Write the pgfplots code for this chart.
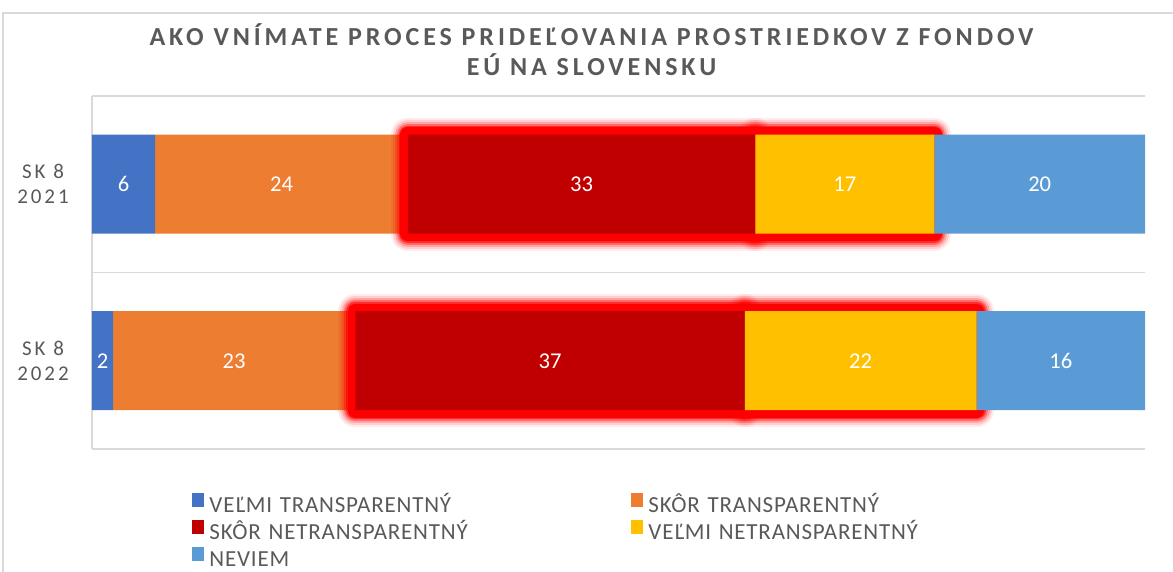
\documentclass[border=0pt]{standalone}
\usepackage{fontspec}
\setmainfont{Carlito}
\newfontfamily\titlefont[LetterSpace=15]{Carlito}
\newfontfamily\catfont[LetterSpace=14]{Carlito}
\newfontfamily\legfont[LetterSpace=3.5]{Carlito}
\usepackage{pgfplots}
\pgfplotsset{compat=1.18}
\definecolor{c1}{HTML}{4472C4}
\definecolor{c2}{HTML}{ED7D31}
\definecolor{c3}{HTML}{C00000}
\definecolor{c4}{HTML}{FFC000}
\definecolor{c5}{HTML}{5B9BD5}
\definecolor{txtgray}{HTML}{595959}
\definecolor{linegray}{HTML}{D9D9D9}
\pgfplotsset{
  base/.style={
    at={(0,0)}, anchor=south west,
    scale only axis, width=526.5pt, height=176.5pt,
    xmin=0, xmax=100, ymin=0, ymax=2,
    clip=false,
  },
  bars/.style={base, xbar stacked, bar width=49.5pt},
  skip/.style={draw=none, fill=none, forget plot},
  glow/.style={fill=none, draw=red, line width=7.5pt, line join=round, forget plot,
    preaction={draw=red, draw opacity=0.08, line width=17pt, line join=round},
    preaction={draw=red, draw opacity=0.12, line width=15pt, line join=round},
    preaction={draw=red, draw opacity=0.2, line width=13pt, line join=round},
    preaction={draw=red, draw opacity=0.35, line width=11pt, line join=round},
    preaction={draw=red, draw opacity=0.6, line width=9pt, line join=round}},
}
\begin{document}
\begin{tikzpicture}
\useasboundingbox (-46pt,-61.5pt) rectangle (540.5pt,224.5pt);
\draw[linegray, line width=0.8pt] (-44.5pt,-80pt) -- (-44.5pt,218pt) -- (580pt,218pt);
% layer 1: axes, legend, first two segments
\begin{axis}[
  bars,
  hide x axis,
  axis y line*=left,
  y axis line style={draw=linegray, line width=0.8pt, -},
  tick style={draw=none},
  ytick={0.5,1.5}, yticklabels={{SK 8\\2022},{SK 8\\2021}},
  yticklabel style={align=center, anchor=center, xshift=-24.5pt,
    font=\catfont\fontsize{10.5}{12.5}\selectfont, text=txtgray},
  minor ytick={0,1,2}, yminorgrids,
  minor grid style={draw=linegray, line width=0.8pt},
  title={AKO VNÍMATE PROCES PRIDEĽOVANIA PROSTRIEDKOV Z FONDOV\\EÚ NA SLOVENSKU},
  title style={at={(0.4744,1)}, anchor=center, yshift=17.25pt, align=center,
    font=\titlefont\bfseries\fontsize{13}{15}\selectfont, text=txtgray},
  legend columns=2,
  legend cell align=left,
  legend image code/.code={\fill[#1] (0pt,-0.5pt) rectangle (6pt,6.5pt);},
  legend style={at={(0.095,0)}, anchor=north west, yshift=-22pt,
    draw=none, fill=none, inner sep=0pt, row sep=2pt,
    font=\legfont\fontsize{11.5}{13}\selectfont, text=txtgray,
    nodes={inner sep=0pt, text height=8pt, text depth=2pt},
    /tikz/every odd column/.append style={column sep=2.5pt},
    /tikz/every even column/.append style={text width=211pt}},
]
\addlegendimage{fill=c1, draw=none}
\addlegendimage{fill=c2, draw=none}
\addlegendimage{fill=c3, draw=none}
\addlegendimage{fill=c4, draw=none}
\addlegendimage{fill=c5, draw=none}
\addplot[fill=c1, draw=none, forget plot] coordinates {(2,0.5) (6,1.5)};
\addplot[fill=c2, draw=none, forget plot] coordinates {(23,0.5) (24,1.5)};
\legend{VEĽMI TRANSPARENTNÝ, SKÔR TRANSPARENTNÝ, SKÔR NETRANSPARENTNÝ, VEĽMI NETRANSPARENTNÝ, NEVIEM}
\end{axis}
% layer 2: glow under the "skôr netransparentný" segment
\begin{axis}[bars, hide axis]
\addplot[skip] coordinates {(2,0.5) (6,1.5)};
\addplot[skip] coordinates {(23,0.5) (24,1.5)};
\addplot[glow] coordinates {(37,0.5) (33,1.5)};
\end{axis}
% layer 3: that segment, glow under the next one
\begin{axis}[bars, hide axis]
\addplot[skip] coordinates {(2,0.5) (6,1.5)};
\addplot[skip] coordinates {(23,0.5) (24,1.5)};
\addplot[fill=c3, draw=none, forget plot] coordinates {(37,0.5) (33,1.5)};
\addplot[glow] coordinates {(22,0.5) (17,1.5)};
\end{axis}
% layer 4: last two segments
\begin{axis}[bars, hide axis]
\addplot[skip] coordinates {(2,0.5) (6,1.5)};
\addplot[skip] coordinates {(23,0.5) (24,1.5)};
\addplot[skip] coordinates {(37,0.5) (33,1.5)};
\addplot[fill=c4, draw=none, forget plot] coordinates {(22,0.5) (17,1.5)};
\addplot[fill=c5, draw=none, forget plot] coordinates {(16,0.5) (20,1.5)};
\end{axis}
% value labels
\begin{axis}[base, hide axis]
\addplot[only marks, mark=none, nodes near coords, point meta=explicit symbolic,
  nodes near coords align={center},
  nodes near coords style={text=white, font=\fontsize{11.3}{13}\selectfont}]
  coordinates {(3,1.5)[6] (18,1.5)[24] (46.5,1.5)[33] (71.5,1.5)[17] (90,1.5)[20]
               (1,0.5)[2] (13.5,0.5)[23] (43.5,0.5)[37] (73,0.5)[22] (92,0.5)[16]};
\end{axis}
\end{tikzpicture}
\end{document}
